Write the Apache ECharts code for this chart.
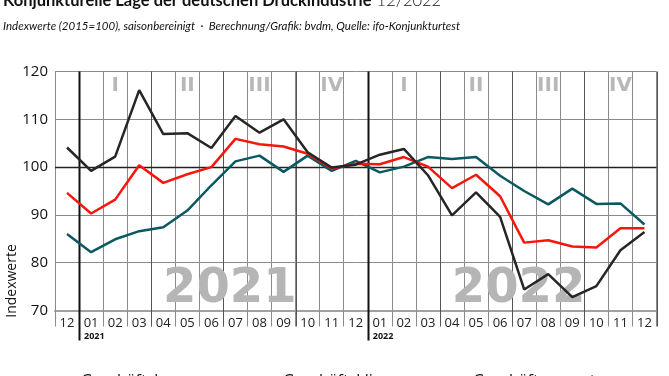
<!DOCTYPE html>
<html>
<head>
<meta charset="utf-8">
<script src="https://cdn.jsdelivr.net/npm/echarts@6/dist/echarts.min.js"></script>
<style>
  html, body { margin: 0; padding: 0; background: #fff; }
  #chart { width: 669px; height: 376px; }
</style>
</head>
<body>
<div id="chart"></div>
<script>
// Monate 12/2020 bis 12/2022
var months = ['12', '01', '02', '03', '04', '05', '06', '07', '08', '09', '10', '11', '12',
  '01', '02', '03', '04', '05', '06', '07', '08', '09', '10', '11', '12'];
var geschaeftslage = [86.0, 82.2, 84.9, 86.6, 87.4, 90.9, 96.2, 101.2, 102.4, 99.0, 102.4, 99.2, 101.3,
  98.9, 100.1, 102.1, 101.7, 102.1, 98.2, 95.0, 92.2, 95.5, 92.3, 92.4, 88.0];
var geschaeftsklima = [94.6, 90.3, 93.2, 100.4, 96.7, 98.5, 100.0, 105.9, 104.8, 104.3, 102.8, 99.7, 100.7,
  100.6, 102.1, 100.1, 95.6, 98.4, 93.9, 84.2, 84.7, 83.4, 83.2, 87.2, 87.2];
var geschaeftserwartungen = [104.1, 99.2, 102.2, 116.1, 106.9, 107.1, 104.0, 110.7, 107.2, 110.0, 103.1, 99.9, 100.5,
  102.6, 103.8, 98.3, 89.9, 94.7, 89.6, 74.4, 77.6, 72.8, 75.1, 82.6, 86.4];

// Jahreswechsel (Index des Januars) und Quartale
var yearStarts = [1, 13];
var yearNames = ['2021', '2022'];
var quarterBounds = [4, 7, 10, 16, 19, 22, 25];
var quarterCenters = [2, 5, 8, 11, 14, 17, 20, 23];
var quarterNames = ['I', 'II', 'III', 'IV', 'I', 'II', 'III', 'IV'];

var fontFam = 'Open Sans';
var bigFont = 'DejaVu Sans';
var teal = '#0a5962';
var red = '#f5170c';
var dark = '#262626';

var chart = echarts.init(document.getElementById('chart'));

// Quartals- und Jahrestrenner
function sepItem (params, api) {
  var band = api.size([1, 0])[0];
  var cs = params.coordSys;
  var x = Math.round(api.coord([api.value(0), 70])[0] - band / 2) + 0.5;
  var isYear = api.value(1) === 1;
  return {
    type: 'line',
    shape: { x1: x, y1: cs.y, x2: x, y2: cs.y + cs.height + (isYear ? 30 : 16) },
    style: { stroke: isYear ? '#111' : '#555', lineWidth: isYear ? 2 : 1 }
  };
}

var sepData = [];
yearStarts.forEach(function (b) { sepData.push([b, 1]); });
quarterBounds.forEach(function (b) { sepData.push([b, 0]); });

var option = {
  animation: false,
  title: {
    text: '{b|Konjunkturelle Lage der deutschen Druckindustrie} {l|12/2022}',
    subtext: 'Indexwerte (2015=100), saisonbereinigt  ·  Berechnung/Grafik: bvdm, Quelle: ifo-Konjunkturtest',
    left: 0,
    top: -9,
    padding: [0, 3],
    itemGap: 10,
    textStyle: {
      rich: {
        b: { fontFamily: 'Lato', fontSize: 16.5, fontWeight: 'bold', color: '#111', lineHeight: 20 },
        l: { fontFamily: 'Lato', fontSize: 16.5, fontWeight: 300, color: '#111', lineHeight: 20 }
      }
    },
    subtextStyle: { fontFamily: 'Lato', fontSize: 11.5, fontStyle: 'italic', color: '#111', lineHeight: 14 }
  },
  legend: [
    { data: [{ name: 'Geschäftslage' }], left: 60 },
    { data: [{ name: 'Geschäftsklima' }], left: 262 },
    { data: [{ name: 'Geschäftserwartungen' }], left: 452 }
  ].map(function (l) {
    l.bottom = -13;
    l.padding = 0;
    l.icon = 'rect';
    l.itemWidth = 16;
    l.itemHeight = 3;
    l.textStyle = { fontFamily: fontFam, fontSize: 16, color: '#111' };
    return l;
  }),
  grid: { left: 55, right: 12.5, top: 71.5, bottom: 65.5 },
  xAxis: {
    type: 'category',
    data: months,
    boundaryGap: true,
    axisLine: { lineStyle: { color: '#a0a0a0', width: 2 } },
    axisTick: { show: true, interval: 0, length: 16, lineStyle: { color: '#8a8a8a' } },
    axisLabel: { interval: 0, margin: 6, fontFamily: fontFam, fontSize: 13, color: '#222' },
    splitLine: { show: true, interval: 0, lineStyle: { color: '#8a8a8a', width: 1 } }
  },
  yAxis: {
    type: 'value',
    min: 70,
    max: 120,
    interval: 10,
    axisLine: { show: false },
    axisTick: { show: false },
    axisLabel: { margin: 7, fontFamily: fontFam, fontSize: 15, color: '#111' },
    splitLine: { lineStyle: { color: '#8a8a8a', width: 1 } }
  },
  graphic: [{
    type: 'text',
    x: 12,
    y: 281,
    rotation: Math.PI / 2,
    style: { text: 'Indexwerte', fontFamily: fontFam, fontSize: 14, fill: '#111', align: 'center', verticalAlign: 'middle' }
  }],
  series: [
    {
      type: 'custom',
      silent: true,
      z: 1,
      clip: false,
      data: sepData,
      encode: { x: 0, y: 1 },
      renderItem: sepItem
    },
    {
      type: 'custom',
      silent: true,
      z: 1,
      clip: false,
      data: quarterCenters.map(function (c) { return [c, 120]; }),
      renderItem: function (params, api) {
        var p = api.coord([api.value(0), 120]);
        return {
          type: 'text',
          style: {
            text: quarterNames[params.dataIndex], x: p[0], y: p[1] + 14,
            fill: '#b8b8b8', font: 'bold 20px ' + bigFont, align: 'center', verticalAlign: 'middle'
          }
        };
      }
    },
    {
      type: 'custom',
      silent: true,
      z: 1,
      clip: false,
      data: yearStarts.map(function (c) { return [c, 70]; }),
      renderItem: function (params, api) {
        var band = api.size([1, 0])[0];
        var p = api.coord([api.value(0), 70]);
        var x0 = p[0] - band / 2;
        return {
          type: 'group',
          children: [{
            type: 'text',
            style: {
              text: yearNames[params.dataIndex], x: x0 + 84, y: p[1] - 21,
              fill: '#b5b5b5', font: 'bold 48px ' + bigFont, align: 'left', verticalAlign: 'middle'
            }
          }, {
            type: 'text',
            style: {
              text: yearNames[params.dataIndex], x: x0 + 5, y: p[1] + 26,
              fill: '#111', font: 'bold 9px ' + fontFam, align: 'left', verticalAlign: 'middle'
            }
          }]
        };
      }
    },
    {
      name: 'Geschäftslage',
      type: 'line',
      data: geschaeftslage,
      symbol: 'none',
      z: 3,
      lineStyle: { color: teal, width: 2.5 },
      itemStyle: { color: teal }
    },
    {
      name: 'Geschäftsklima',
      type: 'line',
      data: geschaeftsklima,
      symbol: 'none',
      z: 4,
      lineStyle: { color: red, width: 2.5 },
      itemStyle: { color: red },
      markLine: {
        silent: true,
        symbol: 'none',
        label: { show: false },
        lineStyle: { color: '#222', width: 1.3, type: 'solid' },
        data: [{ yAxis: 100 }],
        z: 2
      }
    },
    {
      name: 'Geschäftserwartungen',
      type: 'line',
      data: geschaeftserwartungen,
      symbol: 'none',
      z: 5,
      lineStyle: { color: dark, width: 2.5 },
      itemStyle: { color: dark }
    }
  ]
};
chart.setOption(option);
</script>
</body>
</html>
